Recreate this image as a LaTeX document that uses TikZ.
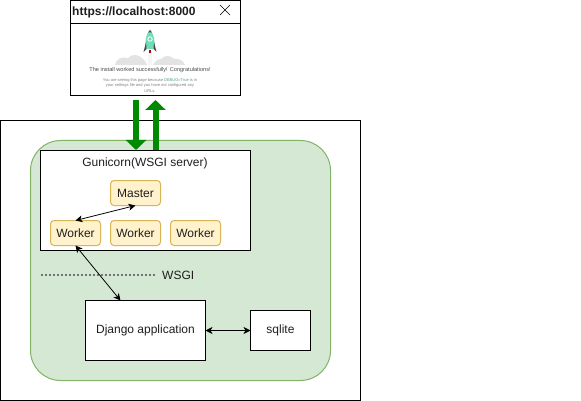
\documentclass[tikz,border=0pt]{standalone}
\usepackage{fontspec}
\setmainfont{Liberation Sans}
\usetikzlibrary{arrows.meta}
\definecolor{gfill}{HTML}{D5E8D4}
\definecolor{gline}{HTML}{82B366}
\definecolor{yfill}{HTML}{FFF2CC}
\definecolor{yline}{HTML}{D6B656}
\definecolor{fat}{HTML}{008A00}
\definecolor{rocket}{HTML}{6FDDB8}
\tikzset{x=1pt,y=-1pt,
 box/.style={draw=black,fill=white,line width=1pt,outer sep=0pt,inner sep=0pt,font=\fontsize{12}{14}\selectfont,text=black!88},
 worker/.style={draw=yline,fill=yfill,rounded corners=3.5pt,line width=1pt,outer sep=0pt,minimum width=50pt,minimum height=25pt,inner sep=0pt,font=\fontsize{12}{14}\selectfont,text=black!88},
 link/.style={{Stealth[length=7pt,width=7pt,inset=2pt]}-{Stealth[length=7pt,width=7pt,inset=2pt]},line width=0.8pt},
 fatarrow/.style={-{Triangle[length=10pt,width=20pt]},line width=6pt,draw=fat},
 lbl/.style={font=\fontsize{12}{14}\selectfont,text=black!88,inner sep=0pt},
 tiny/.style={inner sep=0pt,text=black!50,align=center}}
\begin{document}
\begin{tikzpicture}
\useasboundingbox (0,0) rectangle (581,401);
\node[box,minimum width=360pt,minimum height=280pt,anchor=north west] (outer) at (0.5,120.5) {};
\node[draw=gline,fill=gfill,line width=1pt,outer sep=0pt,rounded corners=30pt,minimum width=300pt,minimum height=240pt,anchor=north west,inner sep=0pt] (green) at (30.5,140.5) {};
\node[box,minimum width=170pt,minimum height=95pt,anchor=north west] (browser) at (70.5,0.5) {};
\node[box,minimum width=170pt,minimum height=23pt,anchor=north west] (title) at (70.5,0.5) {};
\node[lbl,anchor=west,font=\bfseries\fontsize{12}{14}\selectfont] (url) at (72,12) {https://localhost:8000};
\coordinate (xa) at (220,5);\coordinate (xb) at (230,15);\coordinate (xc) at (230,5);\coordinate (xd) at (220,15);
\draw[line width=0.5pt] (xa)--(xb) (xc)--(xd);
% picture contents
\fill[black!11] (115,65) .. controls (116,59) and (122,56) .. (128,58) .. controls (131,54) and (139,54) .. (142,58) .. controls (145,60) and (146,62) .. (147,65) -- cycle;
\fill[black!11] (153,65) .. controls (155,61) and (158,59) .. (161,59) .. controls (164,55) and (171,55) .. (174,59) .. controls (179,58) and (184,61) .. (185,65) -- cycle;
\fill[black!4] (148,52) rectangle (152,65);
\fill[rocket] (150,30) .. controls (154,34) and (155.5,41) .. (154,49) -- (146,49) .. controls (144.5,41) and (146,34) .. (150,30) -- cycle;
\fill[black!70] (146,42) -- (143.5,52) -- (146.5,49) -- cycle (154,42) -- (156.5,52) -- (153.5,49) -- cycle (150,30) -- (148,32.5) -- (152,32.5) -- cycle;
\fill[red!70!black] (149,50) rectangle (151,53);
\draw[white,line width=0.8pt] (150,39) circle (2.2pt);
\node[tiny,font=\fontsize{5.6}{6.5}\selectfont,text=black!70] (congrats) at (150,70.5) {The install worked successfully! Congratulations!};
\node[tiny,font=\fontsize{4}{5.4}\selectfont] (detail) at (150,85.5) {You are seeing this page because \textcolor{rocket!70!black}{DEBUG=True} is in\\your settings file and you have not configured any\\URLs.};
% frames
\node[box,minimum width=210pt,minimum height=100pt,anchor=north west] (gunicorn) at (40.5,150.5) {};
\node[lbl] (gtitle) at (145,163.5) {Gunicorn(WSGI server)};
\node[worker] (master) at (135.5,193) {Master};
\node[worker] (w1) at (75.5,233) {Worker};
\node[worker] (w2) at (135.5,233) {Worker};
\node[worker] (w3) at (195.5,233) {Worker};
\node[box,minimum width=120pt,minimum height=60pt,anchor=north west] (django) at (85.5,300.5) {Django application};
\node[box,minimum width=60pt,minimum height=40pt,anchor=north west] (sqlite) at (250.5,310.5) {sqlite};
\node[lbl,anchor=west] (wsgi) at (162,275.5) {WSGI};
\coordinate (da) at (40.5,275);\coordinate (db) at (156,275);
\draw[dash pattern=on 2.6pt off 1.4pt,line width=1.3pt,draw=black!55] (da)--(db);
\coordinate (dj) at (120.5,300.5);
\draw[link] (w1.north) -- (master.south);
\draw[link] (w1.south) -- (dj);
\draw[link] (django.east) -- (sqlite.west);
\coordinate (fa) at (136,100);\coordinate (fb) at (136,150);\coordinate (fc) at (155.5,150);\coordinate (fd) at (155.5,100);
\draw[fatarrow] (fa)--(fb);
\draw[fatarrow] (fc)--(fd);
\end{tikzpicture}
\end{document}
